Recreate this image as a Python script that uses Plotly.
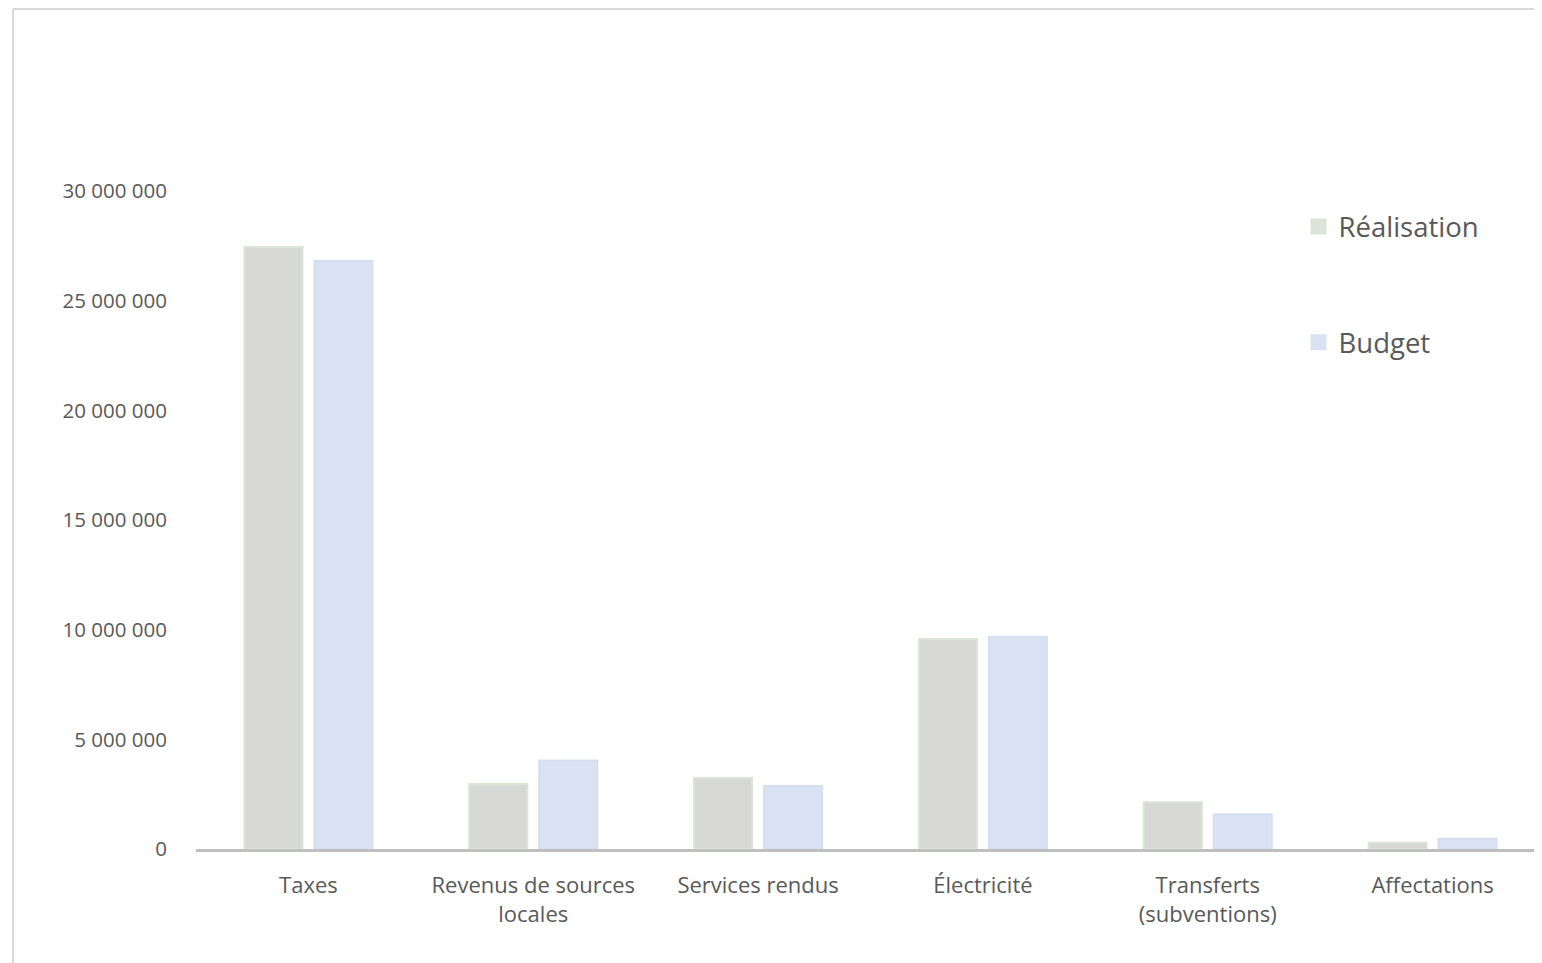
import plotly.graph_objects as go

categories = ["Taxes", "Revenus de sources<br>locales", "Services rendus", "Électricité",
              "Transferts<br>(subventions)", "Affectations"]
realisation = [27450000, 2960000, 3240000, 9580000, 2130000, 290000]
budget = [26810000, 4030000, 2870000, 9680000, 1580000, 470000]
tick_vals = [0, 5000000, 10000000, 15000000, 20000000, 25000000, 30000000]
tick_text = ["0", "5 000 000", "10 000 000", "15 000 000", "20 000 000", "25 000 000", "30 000 000"]

col_r, line_r = "#d7d8d5", "#dbe4d6"
col_b, line_b = "#d9e2f2", "#d5dff1"

W, H = 1542, 963
ML, MR, MT, MB = 188, 5, 183, 122
pw, ph = W - ML - MR, H - MT - MB

fig = go.Figure()
fig.add_trace(go.Bar(name="Réalisation", x=categories, y=realisation, showlegend=False,
                     marker=dict(color=col_r, line=dict(color=line_r, width=2))))
fig.add_trace(go.Bar(name="Budget", x=categories, y=budget, showlegend=False,
                     marker=dict(color=col_b, line=dict(color=line_b, width=2))))
# legend entries with larger square symbols
fig.add_trace(go.Scatter(name="Réalisation", x=[None], y=[None], mode="markers",
                         marker=dict(symbol="square", size=17, color=line_r), legendgroup="r"))
fig.add_trace(go.Scatter(name="Budget", x=[None], y=[None], mode="markers",
                         marker=dict(symbol="square", size=17, color=col_b), legendgroup="b"))

fnt = "Open Sans, Lato, sans-serif"
fig.update_layout(
    width=W, height=H,
    margin=dict(l=ML, r=MR, t=MT, b=MB, autoexpand=False),
    paper_bgcolor="white", plot_bgcolor="white",
    barmode="group", bargap=0.378, bargroupgap=0.17,
    font=dict(family=fnt, color="#595959", size=19),
    showlegend=True,
    legend=dict(x=(1298.5 - 196) / pw, y=(849 - 202) / ph, xanchor="left", yanchor="top",
                font=dict(size=27.5, color="#595959"), tracegroupgap=77,
                itemsizing="trace", bgcolor="rgba(0,0,0,0)"),
    xaxis=dict(showline=True, linecolor="#bfbfbf", linewidth=3, ticks="",
               tickfont=dict(size=22, color="#595959"), showgrid=False, zeroline=False,
               ticklabelstandoff=15),
    yaxis=dict(range=[0, 30000000], tickvals=tick_vals, ticktext=tick_text,
               showgrid=False, zeroline=False, showline=False, ticks="",
               tickfont=dict(size=20.5, color="#595959"), ticklabelstandoff=28),
    shapes=[
        dict(type="line", xref="paper", yref="paper",
             x0=(5 - ML) / pw, x1=(5 - ML) / pw, y0=-MB / ph - 0.05, y1=(H - MB - 1) / ph,
             line=dict(color="#d9d9d9", width=2)),
        dict(type="line", xref="paper", yref="paper",
             x0=(5 - ML) / pw, x1=1.02, y0=(H - MB - 1) / ph, y1=(H - MB - 1) / ph,
             line=dict(color="#d9d9d9", width=2)),
    ],
)
fig.write_html("out.html")
